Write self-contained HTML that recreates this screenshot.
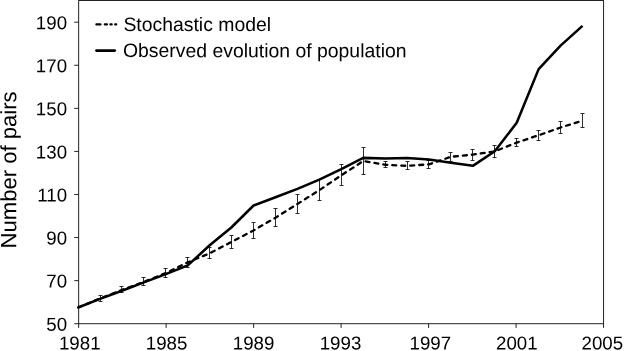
<!DOCTYPE html>
<html><head><meta charset="utf-8"><title>Chart</title>
<style>
html,body{margin:0;padding:0;background:#fff;}
body{width:624px;height:351px;overflow:hidden;}
svg{display:block;will-change:transform;}
text{font-family:"Liberation Sans",sans-serif;fill:#000;text-rendering:geometricPrecision;}
</style></head><body>
<svg width="624" height="351" viewBox="0 0 624 351">
<rect x="0" y="0" width="624" height="351" fill="#fff"/>
<rect x="78.65" y="0.5" width="524.9" height="323.2" fill="none" stroke="#222" stroke-width="1"/>
<g stroke="#222" stroke-width="1"><line x1="74.3" x2="78.65" y1="323.70" y2="323.70"/><line x1="74.3" x2="78.65" y1="280.63" y2="280.63"/><line x1="74.3" x2="78.65" y1="237.56" y2="237.56"/><line x1="74.3" x2="78.65" y1="194.48" y2="194.48"/><line x1="74.3" x2="78.65" y1="151.41" y2="151.41"/><line x1="74.3" x2="78.65" y1="108.34" y2="108.34"/><line x1="74.3" x2="78.65" y1="65.27" y2="65.27"/><line x1="74.3" x2="78.65" y1="22.20" y2="22.20"/><line x1="78.65" x2="78.65" y1="323.7" y2="327.9"/><line x1="166.13" x2="166.13" y1="323.7" y2="327.9"/><line x1="253.62" x2="253.62" y1="323.7" y2="327.9"/><line x1="341.10" x2="341.10" y1="323.7" y2="327.9"/><line x1="428.58" x2="428.58" y1="323.7" y2="327.9"/><line x1="516.07" x2="516.07" y1="323.7" y2="327.9"/><line x1="603.55" x2="603.55" y1="323.7" y2="327.9"/></g>
<g font-size="18.7"><text x="67.05" y="330.70" text-anchor="end" transform="rotate(0.03 67.05 330.70)">50</text><text x="67.05" y="287.63" text-anchor="end" transform="rotate(0.03 67.05 287.63)">70</text><text x="67.05" y="244.56" text-anchor="end" transform="rotate(0.03 67.05 244.56)">90</text><text x="67.05" y="201.48" text-anchor="end" transform="rotate(0.03 67.05 201.48)">110</text><text x="67.05" y="158.41" text-anchor="end" transform="rotate(0.03 67.05 158.41)">130</text><text x="67.05" y="115.34" text-anchor="end" transform="rotate(0.03 67.05 115.34)">150</text><text x="67.05" y="72.27" text-anchor="end" transform="rotate(0.03 67.05 72.27)">170</text><text x="67.05" y="29.20" text-anchor="end" transform="rotate(0.03 67.05 29.20)">190</text><text x="79.75" y="349.5" text-anchor="middle" transform="rotate(0.03 79.75 349.5)">1981</text><text x="166.53" y="349.5" text-anchor="middle" transform="rotate(0.03 166.53 349.5)">1985</text><text x="253.62" y="349.5" text-anchor="middle" transform="rotate(0.03 253.62 349.5)">1989</text><text x="340.50" y="349.5" text-anchor="middle" transform="rotate(0.03 340.50 349.5)">1993</text><text x="430.28" y="349.5" text-anchor="middle" transform="rotate(0.03 430.28 349.5)">1997</text><text x="516.82" y="349.5" text-anchor="middle" transform="rotate(0.03 516.82 349.5)">2001</text><text x="602.35" y="349.5" text-anchor="middle" transform="rotate(0.03 602.35 349.5)">2005</text></g>
<text font-size="22.1" transform="translate(16.3,248.5) rotate(-90.03)">Number of pairs</text>
<path d="M100.5,295.5V301.5M98.5,295.5h4M98.5,301.5h4M121.5,286.5V292.5M119.5,286.5h4M119.5,292.5h4M143.5,277.5V285.5M141.5,277.5h4M141.5,285.5h4M165.5,268.5V277.5M163.5,268.5h4M163.5,277.5h4M187.5,257.5V267.5M185.5,257.5h4M185.5,267.5h4M209.5,247.5V258.5M207.5,247.5h4M207.5,258.5h4M231.5,235.5V248.5M229.5,235.5h4M229.5,248.5h4M253.5,222.5V238.5M251.5,222.5h4M251.5,238.5h4M275.5,208.5V226.5M273.5,208.5h4M273.5,226.5h4M297.5,194.5V213.5M295.5,194.5h4M295.5,213.5h4M319.5,179.5V200.5M317.5,179.5h4M317.5,200.5h4M341.5,164.5V185.5M339.5,164.5h4M339.5,185.5h4M363.5,147.5V174.5M361.5,147.5h4M361.5,174.5h4M385.5,161.5V167.5M383.5,161.5h4M383.5,167.5h4M407.5,161.5V169.5M405.5,161.5h4M405.5,169.5h4M428.5,160.5V168.5M426.5,160.5h4M426.5,168.5h4M450.5,152.5V161.5M448.5,152.5h4M448.5,161.5h4M472.5,149.5V160.5M470.5,149.5h4M470.5,160.5h4M494.5,145.5V157.5M492.5,145.5h4M492.5,157.5h4M516.5,138.5V146.5M514.5,138.5h4M514.5,146.5h4M538.5,130.5V140.5M536.5,130.5h4M536.5,140.5h4M560.5,121.5V133.5M558.5,121.5h4M558.5,133.5h4M582.5,113.5V127.5M580.5,113.5h4M580.5,127.5h4" stroke="#111" stroke-width="0.88" fill="none"/>
<polyline points="78.11,307.55 100.04,298.50 121.97,289.89 143.90,281.92 165.83,273.09 187.76,262.32 209.69,253.28 231.62,241.86 253.55,230.45 275.48,217.74 297.41,203.96 319.34,190.18 341.27,175.32 363.20,161.10 385.13,164.76 407.06,165.84 428.99,164.33 450.92,156.80 472.85,154.64 494.78,151.41 516.71,142.58 538.64,135.26 560.57,127.51 582.50,120.62" fill="none" stroke="#000" stroke-width="2.3" stroke-dasharray="4.0 5.0" stroke-linecap="round" stroke-linejoin="round"/>
<polyline points="78.11,307.55 100.04,298.93 121.97,290.75 143.90,282.35 165.83,274.17 187.76,265.34 209.69,245.31 231.62,227.22 253.55,205.47 275.48,197.28 297.41,188.88 319.34,179.62 341.27,169.07 363.20,157.87 385.13,158.52 407.06,158.09 428.99,159.60 450.92,162.83 472.85,165.84 494.78,151.20 516.71,122.77 538.64,69.14 560.57,45.67 582.50,25.86" fill="none" stroke="#000" stroke-width="2.55" stroke-linejoin="round"/>
<line x1="96.45" x2="116.2" y1="24.45" y2="24.45" stroke="#000" stroke-width="2.3" stroke-linecap="round" stroke-dasharray="4 4.4 2.1 3.5 1.2 3.6 0.9 10"/>
<line x1="96.4" x2="114.8" y1="50.6" y2="50.6" stroke="#000" stroke-width="2.6" stroke-linecap="round"/>
<g font-size="19.4"><text x="123.4" y="30.9" transform="rotate(0.03 123.4 30.9)">Stochastic model</text><text x="123.0" y="57.1" transform="rotate(0.03 123 57.1)">Observed evolution of population</text></g>
</svg>
</body></html>
